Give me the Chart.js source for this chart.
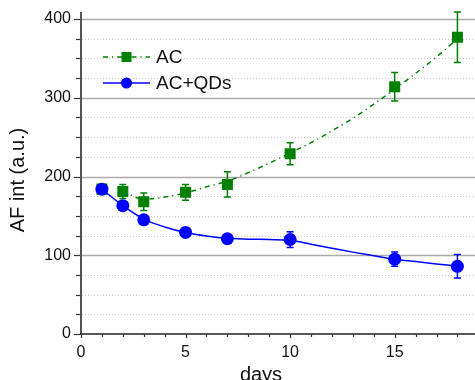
<!DOCTYPE html>
<html><head><meta charset="utf-8">
<script src="https://cdn.jsdelivr.net/npm/chart.js@4"></script>
<style>html,body{margin:0;padding:0;background:#fff;overflow:hidden}</style>
</head><body><canvas id="c" width="475" height="380"></canvas>
<script>
const seriesNames = ['AC', 'AC+QDs'];
const days = [1, 2, 3, 5, 7, 10, 15, 18];
const acValues = [184, 181, 168, 180, 190, 229, 314, 377];
const acErrors = [5, 9, 11, 10, 16, 14, 18, 32];
const qdValues = [184, 163, 145, 129, 121, 120, 95, 86];
const qdErrors = [4, 4, 3, 3, 3, 10, 9, 15];
const acFitDays = [2, 3, 4, 5, 6, 7, 8, 9, 10, 11, 12, 13, 14, 15, 16, 17, 18];
const acFitValues = [182, 171, 174, 179, 187, 194, 205, 217, 230, 243, 258, 274, 292, 311, 331, 352, 375];
const qdFitDays = [1, 2, 3, 4, 5, 6, 7, 8, 9, 10, 11, 12, 13, 14, 15, 16, 17, 18];
const qdFitValues = [184, 163, 146, 136, 129, 124.5, 121.5, 120.5, 120, 119, 114, 109, 104, 99.5, 95, 92, 89, 86];
const xTickValues = [0, 5, 10, 15];
const yTickValues = [0, 100, 200, 300, 400];
const xTitle = 'days';
const yTitle = 'AF int (a.u.)';

const GREEN = '#008000', BLUE = '#0000ff';
const FONT = '"Liberation Sans", Arial, sans-serif';
const acDash = [5, 4, 1.2, 4];
const VIEW_W = 475;

const pts = (xs, ys) => xs.map((x, i) => ({x, y: ys[i]}));

const customPlugin = {
  id: 'custom',
  beforeDraw(chart) {
    const {ctx, chartArea: a, scales: {y}} = chart;
    ctx.save();
    for (let v = 25; v <= 400; v += 25) {
      const py = Math.round(y.getPixelForValue(v)) + 0.5;
      ctx.beginPath();
      if (v % 100 === 0) {
        ctx.strokeStyle = '#aaaaaa'; ctx.lineWidth = 1.5; ctx.setLineDash([]);
      } else {
        ctx.strokeStyle = '#c8c8c8'; ctx.lineWidth = 1; ctx.setLineDash([1, 2]);
      }
      ctx.moveTo(a.left + 1, py); ctx.lineTo(a.right, py); ctx.stroke();
    }
    ctx.restore();
  },
  beforeDatasetsDraw(chart) {
    const {ctx, scales: {x, y}} = chart;
    const drawErr = (vals, errs, color, cap) => {
      ctx.save();
      ctx.strokeStyle = color; ctx.lineWidth = 1.5; ctx.setLineDash([]);
      days.forEach((d, i) => {
        const px = x.getPixelForValue(d);
        const top = y.getPixelForValue(vals[i] + errs[i]);
        const bot = y.getPixelForValue(vals[i] - errs[i]);
        ctx.beginPath();
        ctx.moveTo(px, top); ctx.lineTo(px, bot);
        ctx.moveTo(px - cap, top); ctx.lineTo(px + cap, top);
        ctx.moveTo(px - cap, bot); ctx.lineTo(px + cap, bot);
        ctx.stroke();
      });
      ctx.restore();
    };
    drawErr(acValues, acErrors, GREEN, 3.5);
    drawErr(qdValues, qdErrors, BLUE, 3.5);
  },
  afterDraw(chart) {
    const {ctx, chartArea: a, scales: {x, y}} = chart;
    ctx.save();
    ctx.setLineDash([]);
    ctx.strokeStyle = '#555'; ctx.lineWidth = 2;
    ctx.beginPath(); ctx.moveTo(a.left, a.top); ctx.lineTo(a.left, a.bottom + 1); ctx.stroke();
    ctx.strokeStyle = '#222'; ctx.lineWidth = 1.5;
    ctx.beginPath(); ctx.moveTo(a.left - 1, a.bottom); ctx.lineTo(a.right, a.bottom); ctx.stroke();
    ctx.strokeStyle = '#333'; ctx.lineWidth = 1.2;
    for (let v = 0; v <= 400; v += 25) {
      const py = Math.round(y.getPixelForValue(v)) + 0.5;
      const len = v % 100 === 0 ? 6 : 4;
      ctx.beginPath(); ctx.moveTo(a.left - 1, py); ctx.lineTo(a.left - 1 - len, py); ctx.stroke();
    }
    for (let v = 0; v <= 18; v += 1) {
      const px = Math.round(x.getPixelForValue(v)) + 0.5;
      const len = v % 5 === 0 ? 4 : 3;
      ctx.beginPath(); ctx.moveTo(px, a.bottom); ctx.lineTo(px, a.bottom + len); ctx.stroke();
    }
    ctx.fillStyle = '#111';
    ctx.font = '20px ' + FONT;
    ctx.textAlign = 'center'; ctx.textBaseline = 'alphabetic';
    ctx.fillText(xTitle, 261, 381);
    ctx.save();
    ctx.translate(18, 180); ctx.rotate(-Math.PI / 2);
    ctx.textBaseline = 'middle';
    ctx.fillText(yTitle, 0, 0);
    ctx.restore();
    const lx0 = 103, lx1 = 150, mx = 126.5;
    const rows = [
      {name: seriesNames[0], color: GREEN, dash: acDash, y: 57, marker: 'rect'},
      {name: seriesNames[1], color: BLUE, dash: [], y: 83, marker: 'circle'}
    ];
    rows.forEach(r => {
      ctx.strokeStyle = r.color; ctx.lineWidth = 1.5; ctx.setLineDash(r.dash);
      ctx.beginPath(); ctx.moveTo(lx0, r.y); ctx.lineTo(lx1, r.y); ctx.stroke();
      ctx.setLineDash([]);
      ctx.fillStyle = r.color;
      if (r.marker === 'rect') { ctx.fillRect(mx - 5, r.y - 5, 10, 10); }
      else { ctx.beginPath(); ctx.arc(mx, r.y, 5.5, 0, Math.PI * 2); ctx.fill(); }
      ctx.fillStyle = '#111';
      ctx.font = '19px ' + FONT;
      ctx.textAlign = 'left'; ctx.textBaseline = 'middle';
      ctx.fillText(r.name, 156, r.y + 1);
    });
    ctx.restore();
  }
};

function makeConfig() {
  return {
    type: 'scatter',
    data: {
      datasets: [
        {
          label: seriesNames[1] + ' line', data: pts(qdFitDays, qdFitValues), showLine: true,
          borderColor: BLUE, backgroundColor: BLUE, borderWidth: 1.5,
          cubicInterpolationMode: 'monotone', pointRadius: 0, pointHoverRadius: 0
        },
        {
          label: seriesNames[1], data: pts(days, qdValues), showLine: false,
          borderColor: BLUE, backgroundColor: BLUE,
          pointStyle: 'circle', pointRadius: 6.5, pointBorderWidth: 0, pointHoverRadius: 6.5
        },
        {
          label: seriesNames[0], data: pts(days, acValues), showLine: false,
          borderColor: GREEN, backgroundColor: GREEN,
          pointStyle: 'rect', pointRadius: 7.8, pointBorderWidth: 0, pointHoverRadius: 7.8
        },
        {
          label: seriesNames[0] + ' line', data: pts(acFitDays, acFitValues), showLine: true,
          borderColor: GREEN, backgroundColor: GREEN, borderWidth: 1.5, borderDash: acDash,
          cubicInterpolationMode: 'monotone', pointRadius: 0, pointHoverRadius: 0
        }
      ]
    },
    options: {
      responsive: false, animation: false, maintainAspectRatio: false,
      layout: {padding: {top: 12, right: 0, left: 0, bottom: 0}},
      plugins: {legend: {display: false}, tooltip: {enabled: false}},
      events: [],
      scales: {
        x: {
          type: 'linear', min: 0, max: 18.85,
          grid: {display: false, drawTicks: false}, border: {display: false},
          afterBuildTicks: s => { s.ticks = xTickValues.map(v => ({value: v})); },
          afterFit: s => { s.height = 46; s.paddingLeft = 0; s.paddingRight = 0; s.paddingTop = 0; s.paddingBottom = 0; },
          ticks: {padding: 9, color: '#111', font: {family: FONT, size: 16}, maxRotation: 0}
        },
        y: {
          type: 'linear', min: 0, max: 409,
          grid: {display: false, drawTicks: false}, border: {display: false},
          afterBuildTicks: s => { s.ticks = yTickValues.map(v => ({value: v})); },
          afterFit: s => { s.width = 81; s.paddingLeft = 0; s.paddingRight = 0; s.paddingTop = 0; s.paddingBottom = 0; },
          ticks: {padding: 10, color: '#111', font: {family: FONT, size: 16}}
        }
      }
    },
    plugins: [customPlugin]
  };
}

const canvas = document.getElementById('c');
let chart = new Chart(canvas, makeConfig());
const extra = VIEW_W - chart.chartArea.right;
if (Math.abs(extra) > 0.5) {
  chart.destroy();
  canvas.removeAttribute('style');
  canvas.width = Math.round(VIEW_W + extra);
  canvas.height = 380;
  chart = new Chart(canvas, makeConfig());
}
</script>
</body></html>
